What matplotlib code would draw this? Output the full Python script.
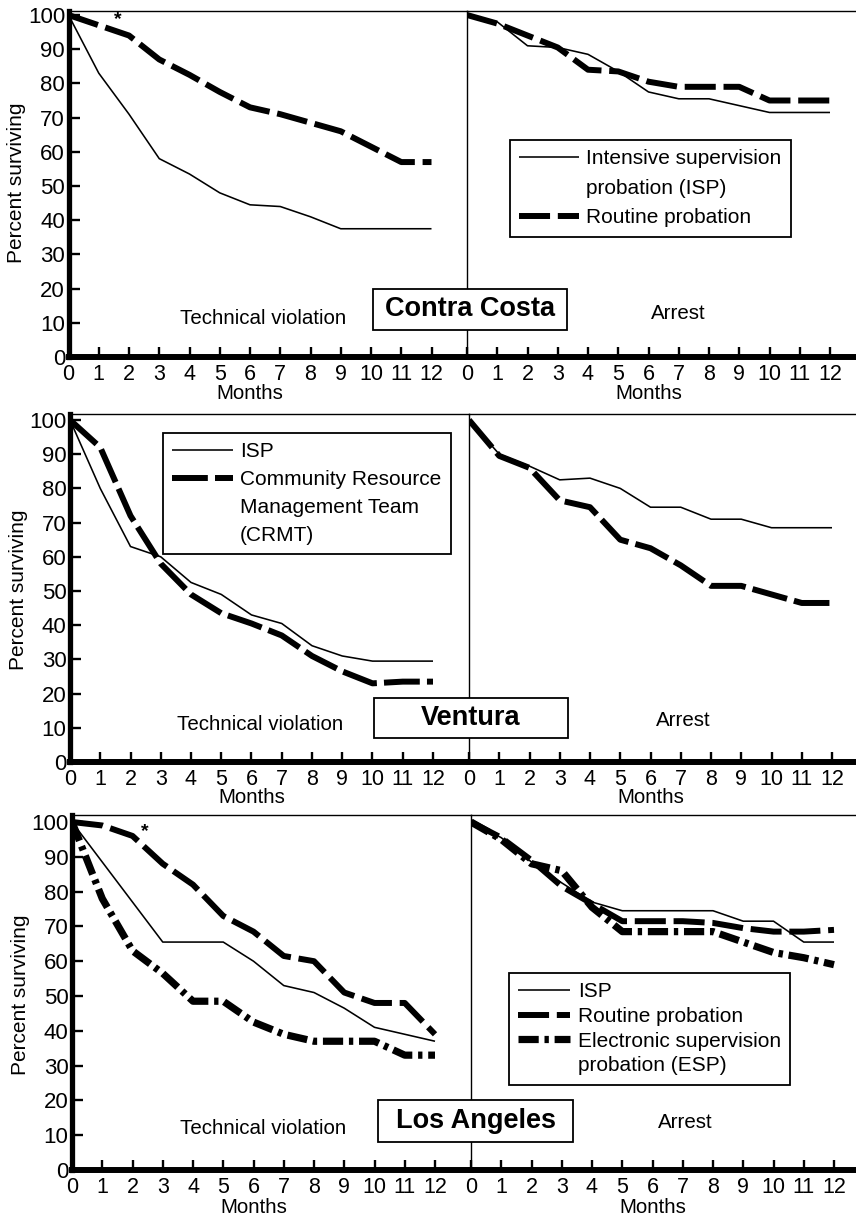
import matplotlib
matplotlib.use("Agg")
import matplotlib.pyplot as plt
from matplotlib.lines import Line2D
from matplotlib.patches import Rectangle

plt.rcParams['font.family'] = ['Liberation Sans', 'DejaVu Sans']

# ---------------- data ----------------
months = list(range(13))
month_labels = [str(m) for m in months]
y_ticks = list(range(0, 101, 10))

# Contra Costa
cc_tv_isp = [100, 83, 71, 58, 53.5, 48, 44.5, 44, 41, 37.5, 37.5, 37.5, 37.5]
cc_tv_routine = [100, 97, 94, 87, 82.5, 77.5, 73, 71, 68.5, 66, 61.5, 57, 57]
cc_ar_isp = [100, 98, 91, 90.5, 88.5, 83.5, 77.5, 75.5, 75.5, 73.5, 71.5, 71.5, 71.5]
cc_ar_routine = [100, 97.5, 94, 90.5, 84, 83.5, 80.5, 79, 79, 79, 75, 75, 75]

# Ventura
v_tv_isp = [100, 80, 63, 60, 52.5, 49, 43, 40.5, 34, 31, 29.5, 29.5, 29.5]
v_tv_crmt = [100, 92, 72, 58, 49, 43.5, 40.5, 37, 31, 26.5, 23, 23.5, 23.5]
v_ar_isp = [100, 90, 86.5, 82.5, 83, 80, 74.5, 74.5, 71, 71, 68.5, 68.5, 68.5]
v_ar_crmt = [100, 89.5, 86, 76.5, 74.5, 65, 62.5, 57.5, 51.5, 51.5, 49, 46.5, 46.5]

# Los Angeles
la_tv_isp = [100, 88.5, 77, 65.5, 65.5, 65.5, 60, 53, 51, 46.5, 41, 39, 37]
la_tv_routine = [100, 99, 96, 88, 82, 73, 68.5, 61.5, 60, 51, 48, 48, 39]
la_tv_esp = [100, 78, 63, 56.5, 48.5, 48.5, 42.5, 39, 37, 37, 37, 33, 33]
la_ar_isp = [100, 95.5, 88.5, 82.5, 77, 74.5, 74.5, 74.5, 74.5, 71.5, 71.5, 65.5, 65.5]
la_ar_routine = [100, 95.5, 89, 81.5, 76.5, 71.5, 71.5, 71.5, 71, 69.5, 68.5, 68.5, 69]
la_ar_esp = [100, 95, 88, 86, 75.5, 68.5, 68.5, 68.5, 68.5, 65.5, 62.5, 61, 59]

county_names = ["Contra Costa", "Ventura", "Los Angeles"]
panel_names = ["Technical violation", "Arrest"]

# ---------------- styles ----------------
STY = {
    "isp": dict(color="black", lw=1.15, solid_capstyle="butt"),
    "routine": dict(color="black", lw=4.3, dashes=(5.2, 1.3)),
    "crmt": dict(color="black", lw=4.3, dashes=(6.0, 1.2)),
    "esp": dict(color="black", lw=5.2, dashes=(2.8, 0.8, 0.6, 0.8)),
}

W, H = 856, 1224
PPM = 30.25  # pixels per month
fig = plt.figure(figsize=(W / 100, H / 100), dpi=100)

FS_XTICK = 15.5
FS_YTICK = 16
FS_LAB = 14.8
FS_LEG = 15


def make_axes(x0, yb, yt, ppu, width, left):
    ax = fig.add_axes([x0 / W, 1 - yb / H, width / W, (yb - yt) / H])
    ax.set_xlim(0, width / PPM)
    ax.set_ylim(0, (yb - yt) / ppu)
    ax.set_xticks(months)
    ax.set_xticklabels(month_labels)
    ax.tick_params(axis="x", direction="in", length=7.5, width=1.7, pad=5,
                   labelsize=FS_XTICK)
    ax.spines["bottom"].set_linewidth(4.3)
    ax.spines["top"].set_linewidth(1.0)
    ax.spines["right"].set_visible(False)
    if left:
        ax.spines["left"].set_linewidth(3.8)
        ax.set_yticks(y_ticks)
        ax.set_yticklabels([str(v) for v in y_ticks])
        ax.tick_params(axis="y", direction="in", length=8, width=1.7, pad=2.5,
                       labelsize=FS_YTICK)
    else:
        ax.spines["left"].set_linewidth(1.0)
        ax.tick_params(axis="y", left=False, labelleft=False)
    ax.set_facecolor("none")
    return ax


rows = [
    dict(xl=68.5, xr=467, yb=357, yt=11, ppu=3.42,
         tv=[("isp", cc_tv_isp), ("routine", cc_tv_routine)],
         ar=[("isp", cc_ar_isp), ("routine", cc_ar_routine)],
         tvtext=(263, 318), artext=(678, 313), mlab=384,
         box=(373, 289, 567, 330), star=(1.62, 98.6),
         ylab=(17, 183)),
    dict(xl=70, xr=469, yb=762, yt=414, ppu=3.42,
         tv=[("isp", v_tv_isp), ("crmt", v_tv_crmt)],
         ar=[("isp", v_ar_isp), ("crmt", v_ar_crmt)],
         tvtext=(260, 725), artext=(683, 720), mlab=788,
         box=(374, 698, 568, 738), star=None,
         ylab=(19, 590)),
    dict(xl=72, xr=471, yb=1170, yt=815, ppu=3.48,
         tv=[("isp", la_tv_isp), ("routine", la_tv_routine), ("esp", la_tv_esp)],
         ar=[("isp", la_ar_isp), ("routine", la_ar_routine), ("esp", la_ar_esp)],
         tvtext=(263, 1128), artext=(685, 1123), mlab=1198,
         box=(378, 1100, 573, 1142), star=(2.42, 97.3),
         ylab=(21, 995)),
]

axes_rows = []
for i, r in enumerate(rows):
    axL = make_axes(r["xl"], r["yb"], r["yt"], r["ppu"], r["xr"] - r["xl"], True)
    axR = make_axes(r["xr"], r["yb"], r["yt"], r["ppu"], W - r["xr"], False)
    axes_rows.append((axL, axR))
    hL = {}
    for key, vals in r["tv"]:
        (ln,) = axL.plot(months, vals, **STY[key])
        hL[key] = ln
    hR = {}
    for key, vals in r["ar"]:
        (ln,) = axR.plot(months, vals, **STY[key])
        hR[key] = ln
    r["hL"], r["hR"] = hL, hR

    hL_px = r["xr"] - r["xl"]
    hR_px = W - r["xr"]
    vh = r["yb"] - r["yt"]
    # panel captions
    axL.text((r["tvtext"][0] - r["xl"]) / hL_px, (r["yb"] - r["tvtext"][1]) / vh,
             panel_names[0], transform=axL.transAxes, ha="center", va="center",
             fontsize=FS_LAB)
    axR.text((r["artext"][0] - r["xr"]) / hR_px, (r["yb"] - r["artext"][1]) / vh,
             panel_names[1], transform=axR.transAxes, ha="center", va="center",
             fontsize=FS_LAB)
    # Months labels
    for ax, x0, wpx in ((axL, r["xl"], hL_px), (axR, r["xr"], hR_px)):
        ax.set_xlabel("Months", fontsize=FS_LAB)
        ax.xaxis.set_label_coords(6 * PPM / wpx, -(r["mlab"] - r["yb"]) / vh)
    # y label
    axL.text((r["ylab"][0] - r["xl"]) / hL_px, (r["yb"] - r["ylab"][1]) / vh,
             "Percent surviving", transform=axL.transAxes, rotation=90,
             ha="center", va="center", fontsize=15)
    # asterisk
    if r["star"] is not None:
        axL.text(r["star"][0], r["star"][1], "*", ha="center", va="center",
                 fontsize=14, fontweight="bold")
    # county box
    bx0, by0, bx1, by1 = r["box"]
    fig.add_artist(Rectangle((bx0 / W, 1 - by1 / H), (bx1 - bx0) / W, (by1 - by0) / H,
                             transform=fig.transFigure, facecolor="white",
                             edgecolor="black", lw=1.3, zorder=10))
    fig.text((bx0 + bx1) / 2 / W, 1 - (by0 + by1) / 2 / H, county_names[i],
             ha="center", va="center", fontsize=19.5, fontweight="bold", zorder=11)

blank = Line2D([], [], color="none")

legend_kw = dict(loc="upper left", frameon=True, fancybox=False, framealpha=1,
                 edgecolor="black", fontsize=FS_LEG, borderaxespad=0,
                 handletextpad=0.35, borderpad=0.45)

# Legend 1 (Contra Costa, right panel)
r = rows[0]
axR = axes_rows[0][1]
leg = axR.legend([r["hR"]["isp"], blank, r["hR"]["routine"]],
                 ["Intensive supervision", "probation (ISP)", "Routine probation"],
                 bbox_to_anchor=((510 - r["xr"]) / (W - r["xr"]),
                                 (r["yb"] - 140) / (r["yb"] - r["yt"])),
                 handlelength=2.85, labelspacing=0.5, **legend_kw)
leg.get_frame().set_linewidth(1.3)

# Legend 2 (Ventura, left panel)
r = rows[1]
axL = axes_rows[1][0]
leg = axL.legend([r["hL"]["isp"], r["hL"]["crmt"], blank, blank],
                 ["ISP", "Community Resource", "Management Team", "(CRMT)"],
                 bbox_to_anchor=((163 - r["xl"]) / (r["xr"] - r["xl"]),
                                 (r["yb"] - 433) / (r["yb"] - r["yt"])),
                 handlelength=2.9, labelspacing=0.42, **legend_kw)
leg.get_frame().set_linewidth(1.3)

# Legend 3 (Los Angeles, right panel)
r = rows[2]
axR = axes_rows[2][1]
leg = axR.legend([r["hR"]["isp"], r["hR"]["routine"], r["hR"]["esp"], blank],
                 ["ISP", "Routine probation", "Electronic supervision", "probation (ESP)"],
                 bbox_to_anchor=((509 - r["xr"]) / (W - r["xr"]),
                                 (r["yb"] - 973) / (r["yb"] - r["yt"])),
                 handlelength=2.5, labelspacing=0.27, **legend_kw)
leg.get_frame().set_linewidth(1.3)

fig.savefig("out.png", dpi=100, facecolor="white")
